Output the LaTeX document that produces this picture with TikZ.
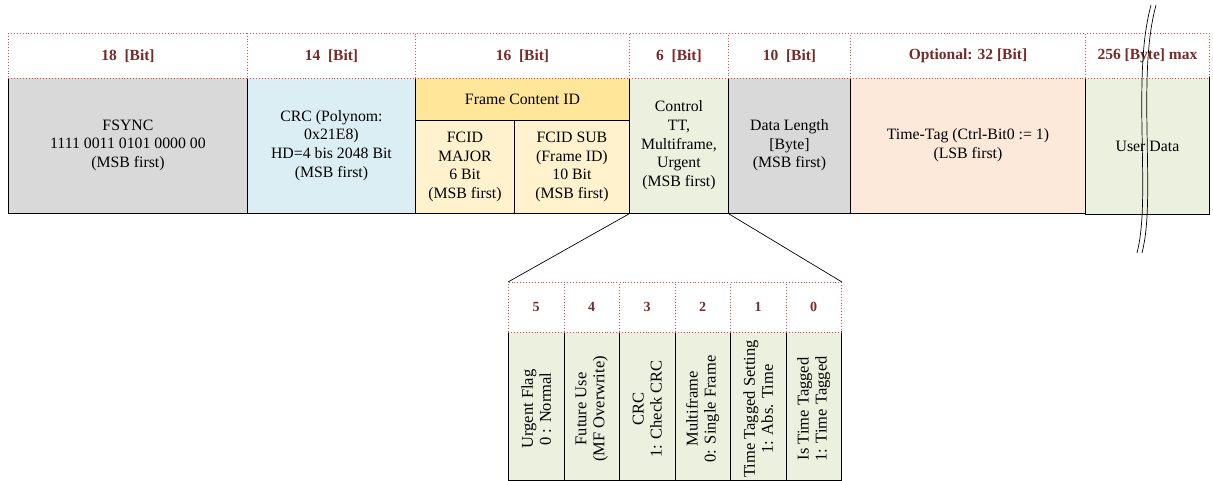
\documentclass[tikz,border=0pt]{standalone}
\usepackage{fontspec}
\setmainfont{Liberation Serif}
\definecolor{hdr}{RGB}{118,44,40}
\definecolor{dotred}{RGB}{226,72,72}
\definecolor{cgray}{HTML}{D9D9D9}
\definecolor{cblue}{HTML}{DBEEF4}
\definecolor{cyel}{HTML}{FFE699}
\definecolor{cyelL}{HTML}{FFF2CC}
\definecolor{cgreen}{HTML}{EBF1DE}
\definecolor{cpeach}{HTML}{FCE9DA}
\tikzset{
  cell/.style={draw=black, line width=0.9pt, anchor=north west, inner sep=0pt, align=center,
    font=\fontsize{15.8}{18.7}\selectfont},
  hdrbox/.style={draw=dotred, fill=white, dotted, line width=0.9pt, anchor=north west, inner sep=0pt,
    font=\fontsize{15.5}{17}\selectfont\bfseries, text=hdr},
  rottext/.style={rotate=90, align=center, inner sep=0pt, font=\fontsize{16.5}{18}\selectfont},
  link/.style={draw=black, line width=0.7pt},
  breakline/.style={draw=black, line width=0.7pt},
}
\begin{document}
\begin{tikzpicture}[x=1pt,y=-1pt]
\useasboundingbox (0,0) rectangle (1213,481);
% main row
\node[cell, fill=cgray, minimum width=239pt, minimum height=136pt] (fsync) at (8,77)
  {FSYNC\\1111 0011 0101 0000 00\\(MSB first)};
\node[cell, fill=cblue, minimum width=168pt, minimum height=136pt] (crc) at (247,77)
  {CRC (Polynom:\\0x21E8)\\HD=4 bis 2048 Bit\\(MSB first)};
\node[cell, fill=cyel, minimum width=214pt, minimum height=43pt] (fcid) at (415,77)
  {Frame Content ID};
\node[cell, fill=cyelL, minimum width=99pt, minimum height=93pt] (major) at (415,120)
  {FCID\\MAJOR\\6 Bit\\(MSB first)};
\node[cell, fill=cyelL, minimum width=115pt, minimum height=93pt] (sub) at (514,120)
  {FCID SUB\\(Frame ID)\\10 Bit\\(MSB first)};
\node[cell, fill=cgreen, minimum width=99pt, minimum height=136pt] (ctrl) at (629,77)
  {Control\\TT,\\Multiframe,\\Urgent\\(MSB first)};
\node[cell, fill=cgray, minimum width=122pt, minimum height=136pt] (dlen) at (728,77)
  {Data Length\\{[Byte]}\\(MSB first)};
\node[cell, fill=cpeach, minimum width=235pt, minimum height=136pt] (tt) at (850,77)
  {Time-Tag (Ctrl-Bit0 := 1)\\(LSB first)};
\node[cell, fill=cgreen, minimum width=124pt, minimum height=137pt] (ud) at (1085,77)
  {User Data};
% header row
\node[hdrbox, minimum width=239pt, minimum height=44.6pt] (h18) at (8,33) {18\enspace[Bit]};
\node[hdrbox, minimum width=168pt, minimum height=44.6pt] (h14) at (247,33) {14\enspace[Bit]};
\node[hdrbox, minimum width=214pt, minimum height=44.6pt] (h16) at (415,33) {16\enspace[Bit]};
\node[hdrbox, minimum width=99pt, minimum height=44.6pt] (h6) at (629,33) {6\enspace[Bit]};
\node[hdrbox, minimum width=122pt, minimum height=44.6pt] (h10) at (728,33) {10\enspace[Bit]};
\node[hdrbox, minimum width=235pt, minimum height=44.6pt] (h32) at (850,33) {Optional: 32 [Bit]};
\node[hdrbox, minimum width=124pt, minimum height=44.6pt] (h256) at (1085,33) {256 [Byte] max};
% detail of control bits
\foreach \n/\i in {5/0,4/1,3/2,2/3,1/4,0/5}{
  \node[cell, fill=cgreen, minimum width=55.5pt, minimum height=149pt] (b\n) at (508+\i*55.5,331) {};
  \node[hdrbox, font=\fontsize{14}{16}\selectfont\bfseries, minimum width=55.5pt, minimum height=49.6pt] (bh\n) at (508+\i*55.5,282) {\n};
}
\node[rottext] (t5) at ([yshift=-3pt]b5.center) {Urgent Flag\\0 : Normal};
\node[rottext] (t4) at ([yshift=-3pt]b4.center) {Future Use\\(MF Overwrite)};
\node[rottext] (t3) at ([yshift=-3pt]b3.center) {CRC\\1: Check CRC};
\node[rottext] (t2) at ([yshift=-3pt]b2.center) {Multiframe\\0: Single Frame};
\node[rottext] (t1) at ([yshift=-3pt]b1.center) {Time Tagged Setting\\1: Abs. Time};
\node[rottext] (t0) at ([yshift=-3pt]b0.center) {Is Time Tagged\\1: Time Tagged};
% zoom connectors
\draw[link] (ctrl.south west) -- (bh5.north west);
\draw[link] (ctrl.south east) -- (bh0.north east);
% break marks
\foreach \dx in {0,5}{
  \draw[breakline] (1151+\dx,5) .. controls (1143+\dx,35) and (1141+\dx,70) .. (1142+\dx,130)
     .. controls (1143+\dx,190) and (1144+\dx,225) .. (1137+\dx,253);
}
\end{tikzpicture}
\end{document}
